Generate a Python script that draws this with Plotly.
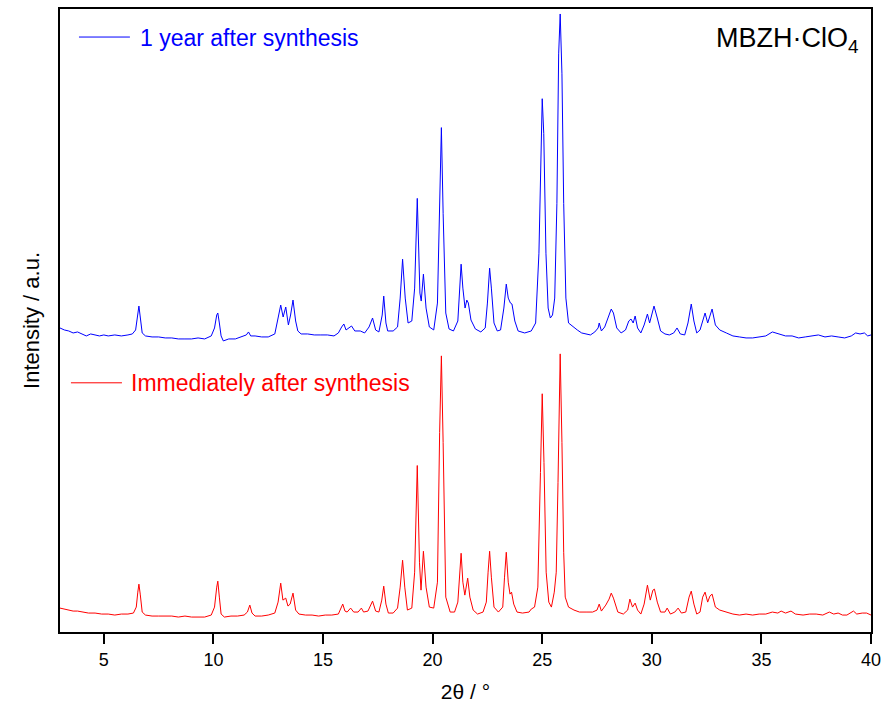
import plotly.graph_objects as go

# 2theta (deg) and intensity (a.u., offset patterns as drawn)
blue_points = [
    (3.0, 305), (3.1, 304), (3.2, 303), (3.4, 302), (3.6, 300), (3.8, 301), (4.0, 299), (4.2, 297),
    (4.4, 299), (4.6, 298), (4.8, 297), (5.0, 298), (5.2, 297), (5.5, 298), (5.8, 297), (6.1, 298),
    (6.3, 299), (6.45, 303), (6.55, 320), (6.6, 327), (6.65, 318), (6.75, 300), (6.9, 297), (7.2, 296),
    (7.5, 296), (7.8, 295), (8.1, 295), (8.4, 294), (8.7, 294), (9.0, 294), (9.3, 295), (9.6, 294),
    (9.9, 297), (10.05, 305), (10.15, 318), (10.2, 320), (10.27, 310), (10.35, 297), (10.45, 292),
    (10.7, 294), (11.0, 294), (11.3, 296), (11.5, 298), (11.6, 301), (11.7, 297), (11.9, 297),
    (12.2, 296), (12.5, 296), (12.8, 299), (12.95, 315), (13.07, 328), (13.18, 316), (13.3, 326),
    (13.42, 308), (13.52, 318), (13.63, 333), (13.75, 312), (13.85, 302), (14.0, 299), (14.3, 299),
    (14.6, 298), (14.9, 298), (15.2, 298), (15.5, 297), (15.7, 300), (15.85, 306), (15.95, 309),
    (16.05, 303), (16.2, 305), (16.3, 307), (16.45, 302), (16.7, 302), (16.9, 300), (17.1, 306),
    (17.26, 315), (17.4, 303), (17.55, 301), (17.7, 318), (17.77, 337), (17.87, 310), (17.95, 302),
    (18.2, 302), (18.4, 306), (18.52, 335), (18.63, 374), (18.75, 335), (18.88, 310), (19.05, 312),
    (19.18, 345), (19.3, 435), (19.42, 340), (19.48, 332), (19.58, 359), (19.7, 325), (19.85, 306),
    (20.05, 303), (20.22, 330), (20.32, 440), (20.4, 506), (20.48, 420), (20.6, 320), (20.75, 304),
    (20.95, 302), (21.15, 312), (21.23, 345), (21.3, 369), (21.38, 345), (21.48, 325), (21.56, 333),
    (21.63, 330), (21.75, 313), (21.95, 304), (22.2, 301), (22.4, 305), (22.5, 330), (22.6, 365),
    (22.68, 345), (22.8, 310), (22.95, 302), (23.1, 303), (23.25, 325), (23.36, 349), (23.45, 335),
    (23.55, 330), (23.62, 329), (23.75, 312), (23.9, 302), (24.2, 300), (24.5, 302), (24.7, 310),
    (24.85, 380), (24.95, 510), (25.0, 535), (25.07, 500), (25.17, 380), (25.27, 325), (25.37, 315),
    (25.47, 318), (25.57, 335), (25.67, 430), (25.75, 580), (25.82, 620), (25.9, 560), (25.98, 430),
    (26.08, 335), (26.2, 310), (26.4, 306), (26.6, 303), (26.8, 300), (27.0, 299), (27.2, 298),
    (27.4, 301), (27.55, 305), (27.6, 310), (27.7, 302), (27.85, 306), (28.0, 315), (28.15, 324),
    (28.25, 320), (28.4, 305), (28.6, 300), (28.8, 303), (28.95, 312), (29.05, 314), (29.15, 310),
    (29.24, 317), (29.35, 305), (29.5, 300), (29.65, 308), (29.8, 319), (29.9, 310), (30.0, 318),
    (30.1, 327), (30.25, 315), (30.4, 302), (30.6, 299), (30.8, 298), (31.0, 300), (31.15, 305),
    (31.3, 299), (31.5, 298), (31.65, 310), (31.8, 329), (31.92, 312), (32.05, 300), (32.2, 303),
    (32.33, 314), (32.43, 320), (32.55, 310), (32.65, 318), (32.75, 324), (32.9, 308), (33.1, 303),
    (33.4, 300), (33.7, 297), (34.0, 296), (34.3, 295), (34.6, 295), (34.9, 296), (35.2, 297),
    (35.5, 301), (35.8, 299), (36.1, 297), (36.4, 297), (36.7, 295), (37.0, 296), (37.3, 297),
    (37.6, 298), (37.9, 296), (38.2, 297), (38.5, 296), (38.8, 295), (39.1, 297), (39.3, 300),
    (39.5, 299), (39.7, 300), (39.85, 297), (40.0, 298),
]

red_points = [
    (3.0, 24), (3.2, 23), (3.4, 22), (3.6, 21), (3.8, 21), (4.0, 20), (4.3, 19), (4.6, 19), (4.9, 18),
    (5.2, 18), (5.5, 17), (5.8, 18), (6.1, 18), (6.35, 19), (6.48, 25), (6.55, 40), (6.6, 48),
    (6.66, 38), (6.75, 20), (6.9, 17), (7.2, 16), (7.5, 16), (7.8, 16), (8.1, 16), (8.4, 15),
    (8.7, 16), (9.0, 15), (9.3, 15), (9.6, 15), (9.9, 17), (10.05, 25), (10.15, 45), (10.2, 51),
    (10.27, 35), (10.35, 18), (10.5, 15), (10.8, 16), (11.1, 16), (11.4, 17), (11.55, 20),
    (11.66, 27), (11.76, 19), (11.9, 16), (12.2, 16), (12.5, 17), (12.8, 19), (12.95, 30),
    (13.07, 49), (13.17, 32), (13.3, 34), (13.4, 26), (13.5, 28), (13.63, 39), (13.75, 22),
    (13.9, 18), (14.2, 17), (14.5, 17), (14.8, 16), (15.1, 17), (15.4, 17), (15.7, 18), (15.9, 28),
    (16.0, 21), (16.1, 20), (16.26, 24), (16.4, 20), (16.6, 20), (16.75, 24), (16.85, 20),
    (17.05, 21), (17.26, 31), (17.4, 21), (17.55, 20), (17.68, 32), (17.77, 46), (17.87, 28),
    (17.98, 19), (18.2, 19), (18.4, 24), (18.52, 45), (18.63, 72), (18.73, 45), (18.85, 22),
    (19.05, 24), (19.18, 60), (19.3, 167), (19.4, 70), (19.47, 42), (19.58, 81), (19.7, 45),
    (19.85, 25), (20.05, 24), (20.22, 50), (20.32, 200), (20.4, 277), (20.48, 190), (20.6, 35),
    (20.8, 20), (21.0, 20), (21.15, 30), (21.23, 60), (21.3, 79), (21.38, 50), (21.47, 37),
    (21.6, 54), (21.7, 35), (21.85, 22), (22.05, 18), (22.3, 20), (22.45, 30), (22.53, 60),
    (22.6, 81), (22.68, 55), (22.8, 25), (23.0, 20), (23.2, 25), (23.28, 55), (23.36, 80),
    (23.45, 50), (23.53, 38), (23.6, 40), (23.7, 28), (23.85, 20), (24.1, 19), (24.4, 20),
    (24.5, 23), (24.65, 25), (24.8, 45), (24.92, 160), (25.0, 239), (25.08, 170), (25.18, 60),
    (25.3, 30), (25.42, 25), (25.55, 40), (25.64, 60), (25.72, 150), (25.82, 279), (25.9, 190),
    (25.98, 80), (26.05, 35), (26.2, 25), (26.45, 22), (26.7, 20), (27.0, 20), (27.3, 20),
    (27.5, 22), (27.6, 28), (27.7, 21), (27.9, 27), (28.05, 33), (28.15, 39), (28.25, 34),
    (28.45, 20), (28.7, 18), (28.9, 22), (29.0, 33), (29.12, 25), (29.24, 29), (29.35, 22),
    (29.5, 18), (29.65, 28), (29.8, 47), (29.93, 32), (30.05, 42), (30.12, 43), (30.25, 30),
    (30.4, 20), (30.6, 20), (30.7, 24), (30.85, 18), (31.05, 20), (31.2, 24), (31.35, 19),
    (31.55, 20), (31.7, 35), (31.8, 41), (31.92, 28), (32.05, 18), (32.2, 20), (32.32, 35),
    (32.43, 40), (32.55, 30), (32.65, 36), (32.75, 38), (32.9, 25), (33.1, 22), (33.4, 20),
    (33.7, 18), (34.0, 17), (34.3, 18), (34.6, 17), (34.9, 18), (35.2, 18), (35.5, 20), (35.75, 19),
    (35.9, 21), (36.1, 19), (36.35, 21), (36.55, 18), (36.9, 17), (37.2, 18), (37.5, 18), (37.8, 17),
    (38.1, 20), (38.3, 18), (38.5, 19), (38.7, 17), (38.9, 17), (39.2, 21), (39.35, 18), (39.6, 19),
    (39.8, 19), (40.0, 17),
]

blue_name = "1 year after synthesis"
red_name = "Immediately after synthesis"
major_ticks = [5, 10, 15, 20, 25, 30, 35, 40]
minor_ticks = [7.5, 12.5, 17.5, 22.5, 27.5, 32.5, 37.5]

BLUE = "#0000FF"
RED = "#FF0000"
FONT = "Liberation Sans, Arial, sans-serif"

fig = go.Figure()
fig.add_trace(go.Scatter(
    x=[p[0] for p in blue_points], y=[p[1] for p in blue_points],
    mode="lines", name=blue_name, line=dict(color=BLUE, width=1), showlegend=False,
))
fig.add_trace(go.Scatter(
    x=[p[0] for p in red_points], y=[p[1] for p in red_points],
    mode="lines", name=red_name, line=dict(color=RED, width=1), showlegend=False,
))

# legend keys (line samples) and labels placed as in the reference
legend_keys = [
    dict(type="line", xref="paper", yref="paper", x0=0.0234, x1=0.0862, y0=0.9550, y1=0.9550,
         line=dict(color=BLUE, width=1)),
    dict(type="line", xref="paper", yref="paper", x0=0.0135, x1=0.0764, y0=0.4000, y1=0.4000,
         line=dict(color=RED, width=1)),
]
labels = [
    dict(text=blue_name, xref="paper", yref="paper", x=0.0961, y=0.9536,
         xanchor="left", yanchor="middle", showarrow=False,
         font=dict(size=23, color=BLUE, family=FONT)),
    dict(text=red_name, xref="paper", yref="paper", x=0.0850, y=0.4000,
         xanchor="left", yanchor="middle", showarrow=False,
         font=dict(size=23, color=RED, family=FONT)),
    dict(text="MBZH·ClO<sub>4</sub>", xref="paper", yref="paper",
         x=0.988, y=0.95, xanchor="right", yanchor="middle", showarrow=False,
         font=dict(size=27, color="black", family=FONT)),
]

fig.update_layout(
    width=888, height=717,
    margin=dict(l=60, r=16, t=7, b=85),
    paper_bgcolor="white", plot_bgcolor="white",
    showlegend=False,
    font=dict(family=FONT, size=18, color="black"),
    xaxis=dict(range=[3, 40], tickvals=major_ticks, ticks="outside", ticklen=10, tickwidth=2,
               tickcolor="#000000", tickfont=dict(size=18),
               showline=True, linecolor="black", linewidth=2, mirror=True,
               showgrid=False, zeroline=False,
               title=dict(text="2θ / °", font=dict(size=21), standoff=16)),
    xaxis2=dict(range=[3, 40], overlaying="x", anchor="y", side="bottom",
                tickvals=minor_ticks, ticks="outside", ticklen=6, tickwidth=2,
                tickcolor="#000000", showticklabels=False, showline=False,
                showgrid=False, zeroline=False),
    yaxis=dict(range=[0, 625], showticklabels=False, ticks="",
               showline=True, linecolor="black", linewidth=2, mirror=True,
               showgrid=False, zeroline=False,
               title=dict(text="Intensity / a.u.", font=dict(size=22), standoff=12)),
    shapes=legend_keys,
    annotations=labels,
)

fig.write_html("out.html")
